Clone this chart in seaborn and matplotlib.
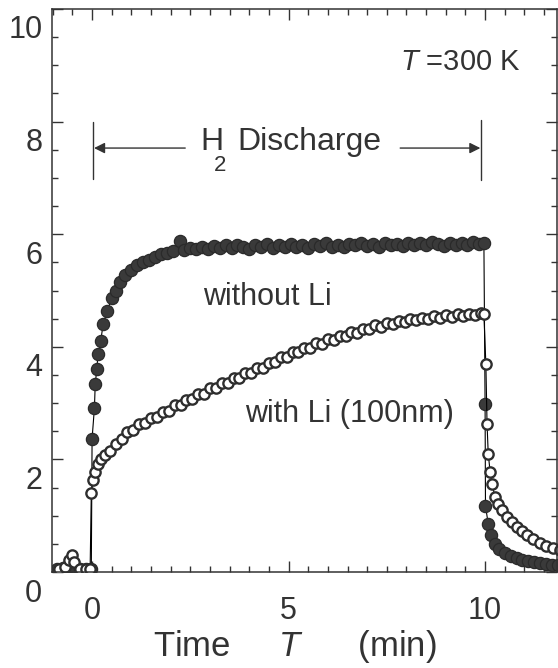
import numpy as np
import pandas as pd
import seaborn as sns
import matplotlib.pyplot as plt
import matplotlib.transforms as mtransforms
from matplotlib.ticker import MultipleLocator

sns.set_style('ticks')
plt.rcParams['font.family'] = ['Liberation Sans', 'DejaVu Sans']
plt.rcParams['mathtext.fontset'] = 'custom'
plt.rcParams['mathtext.rm'] = 'Liberation Sans'
plt.rcParams['mathtext.it'] = 'Liberation Sans:italic'

# without Li (filled circles)
t_noli = [-0.9, -0.75, -0.6, -0.45, -0.3, -0.15, -0.02,
          0.0, 0.06, 0.08, 0.12, 0.15, 0.22, 0.28, 0.38, 0.5, 0.6, 0.71, 0.85,
          1.0, 1.15, 1.3, 1.45, 1.6, 1.75, 1.9, 2.05, 2.24, 2.35, 2.5, 2.65,
          2.8, 2.95, 3.1, 3.25, 3.4, 3.55, 3.7, 3.85, 4.0, 4.15, 4.3, 4.45,
          4.6, 4.75, 4.9, 5.05, 5.2, 5.35, 5.5, 5.65, 5.8, 5.95, 6.1, 6.25,
          6.4, 6.55, 6.7, 6.85, 7.0, 7.15, 7.3, 7.45, 7.6, 7.75, 7.9, 8.05,
          8.2, 8.35, 8.5, 8.65, 8.8, 8.95, 9.1, 9.25, 9.4, 9.55, 9.7, 9.85, 9.97,
          10.0, 10.01, 10.08, 10.15, 10.25, 10.35, 10.5, 10.65, 10.8, 10.95,
          11.1, 11.25, 11.4, 11.55, 11.7, 11.85]
y_noli = [0.05, 0.07, 0.10, 0.08, 0.06, 0.05, 0.05,
          2.37, 2.92, 3.34, 3.60, 3.87, 4.10, 4.40, 4.63, 4.86, 5.00, 5.15, 5.27,
          5.37, 5.45, 5.50, 5.55, 5.60, 5.64, 5.67, 5.70, 5.88, 5.72, 5.76, 5.73,
          5.78, 5.74, 5.79, 5.76, 5.81, 5.75, 5.80, 5.77, 5.74, 5.80, 5.77, 5.82,
          5.76, 5.81, 5.78, 5.83, 5.77, 5.80, 5.76, 5.82, 5.79, 5.84, 5.78, 5.81,
          5.77, 5.83, 5.80, 5.85, 5.79, 5.82, 5.78, 5.84, 5.80, 5.83, 5.79, 5.85,
          5.81, 5.84, 5.80, 5.86, 5.82, 5.79, 5.85, 5.81, 5.84, 5.80, 5.86, 5.82, 5.84,
          2.98, 1.18, 0.85, 0.65, 0.50, 0.40, 0.33, 0.28, 0.25, 0.22,
          0.20, 0.18, 0.16, 0.14, 0.13, 0.12]

# with Li (100nm) (open circles)
t_li = [-0.85, -0.7, -0.6, -0.52, -0.45, -0.3, -0.15, -0.05,
        -0.02, 0.03, 0.08, 0.14, 0.22, 0.33, 0.45, 0.6, 0.75,
        0.9, 1.05, 1.2, 1.35, 1.5, 1.65, 1.8, 1.95, 2.1, 2.25, 2.4, 2.55,
        2.7, 2.85, 3.0, 3.15, 3.3, 3.45, 3.6, 3.75, 3.9, 4.05, 4.2, 4.35,
        4.5, 4.65, 4.8, 4.95, 5.1, 5.25, 5.4, 5.55, 5.7, 5.85, 6.0, 6.15,
        6.3, 6.45, 6.6, 6.75, 6.9, 7.05, 7.2, 7.35, 7.5, 7.65, 7.8, 7.95,
        8.1, 8.25, 8.4, 8.55, 8.7, 8.85, 9.0, 9.15, 9.3, 9.45, 9.6, 9.75, 9.9, 9.97,
        10.02, 10.05, 10.08, 10.13, 10.18, 10.25, 10.34, 10.43, 10.56, 10.68,
        10.81, 10.94, 11.07, 11.22, 11.4, 11.56, 11.73, 11.9]
y_li = [0.05, 0.08, 0.22, 0.30, 0.18, 0.06, 0.05, 0.05,
        1.40, 1.64, 1.77, 1.92, 2.00, 2.07, 2.15, 2.27, 2.36,
        2.48, 2.52, 2.63, 2.65, 2.74, 2.76, 2.85, 2.86, 2.96, 2.97, 3.06, 3.07,
        3.16, 3.17, 3.26, 3.27, 3.35, 3.36, 3.44, 3.45, 3.53, 3.54, 3.62, 3.63,
        3.72, 3.73, 3.82, 3.82, 3.90, 3.90, 3.98, 3.98, 4.06, 4.05, 4.13, 4.12,
        4.20, 4.19, 4.26, 4.25, 4.32, 4.31, 4.38, 4.36, 4.42, 4.40, 4.46, 4.44,
        4.50, 4.47, 4.52, 4.49, 4.54, 4.51, 4.56, 4.53, 4.58, 4.54, 4.59, 4.56, 4.60, 4.58,
        3.69, 2.63, 2.10, 1.77, 1.57, 1.33, 1.20, 1.10, 0.97, 0.88,
        0.80, 0.72, 0.65, 0.58, 0.51, 0.46, 0.42, 0.39]

df_noli = pd.DataFrame({'t': t_noli, 'y': y_noli})
df_li = pd.DataFrame({'t': t_li, 'y': y_li})

ink = '#333333'

fig = plt.figure(figsize=(5.58, 6.68), dpi=100)
ax = fig.add_axes([52/558, 96/668, 505/558, 563/668])

sns.lineplot(data=df_noli, x='t', y='y', ax=ax, sort=False, estimator=None,
             color='black', lw=0.8, marker='o', markersize=8.8,
             markerfacecolor='#3a3a3a', markeredgecolor='#2a2a2a', markeredgewidth=0.9)
sns.lineplot(data=df_li, x='t', y='y', ax=ax, sort=False, estimator=None,
             color='black', lw=0.8, marker='o', markersize=7.4,
             markerfacecolor='white', markeredgecolor='#2e2e2e', markeredgewidth=1.7)

ax.set_xlim(-1.02, 11.83)
ax.set_ylim(0, 10.0)
ax.xaxis.set_major_locator(MultipleLocator(5))
ax.xaxis.set_minor_locator(MultipleLocator(0.5))
ax.yaxis.set_major_locator(MultipleLocator(2))
ax.yaxis.set_minor_locator(MultipleLocator(0.5))
ax.tick_params(which='both', direction='in', top=True, right=True, colors=ink,
               labelsize=22, width=1.0)
ax.tick_params(which='major', length=8)
ax.tick_params(which='minor', length=4)
ax.tick_params(axis='x', pad=17)
ax.tick_params(axis='y', pad=7)
for lbl in ax.get_yticklabels():
    lbl.set_transform(lbl.get_transform() + mtransforms.ScaledTranslation(0, -0.18, fig.dpi_scale_trans))
for s in ax.spines.values():
    s.set_color(ink)
    s.set_linewidth(1.1)

ax.set_ylabel('')
ax.set_xlabel('Time     $\\it{T}$      (min)', fontsize=25, color=ink)
ax.xaxis.set_label_coords(0.48, -0.1)

# annotations
ax.text(7.84, 9.05, '$\\it{T}$ =300 K', fontsize=21, color=ink, va='center')
ax.text(2.75, 7.63, 'H', fontsize=23, color=ink, va='center')
ax.text(3.1, 7.22, '2', fontsize=16, color=ink, va='center')
ax.text(3.69, 7.63, 'Discharge', fontsize=23, color=ink, va='center')
ax.plot([0.03, 0.03], [6.98, 7.99], color=ink, lw=1.0)
ax.plot([9.9, 9.9], [6.96, 8.02], color=ink, lw=1.0)
ax.annotate('', xy=(0.05, 7.53), xytext=(2.37, 7.53),
            arrowprops=dict(arrowstyle='-|>', color=ink, lw=1.0, mutation_scale=16, shrinkA=0, shrinkB=0))
ax.annotate('', xy=(9.88, 7.53), xytext=(7.84, 7.53),
            arrowprops=dict(arrowstyle='-|>', color=ink, lw=1.0, mutation_scale=16, shrinkA=0, shrinkB=0))
ax.text(2.82, 4.88, 'without Li', fontsize=22, color=ink, va='center')
ax.text(3.89, 2.81, 'with Li (100nm)', fontsize=22, color=ink, va='center')

fig.savefig('out.png', dpi=100)
